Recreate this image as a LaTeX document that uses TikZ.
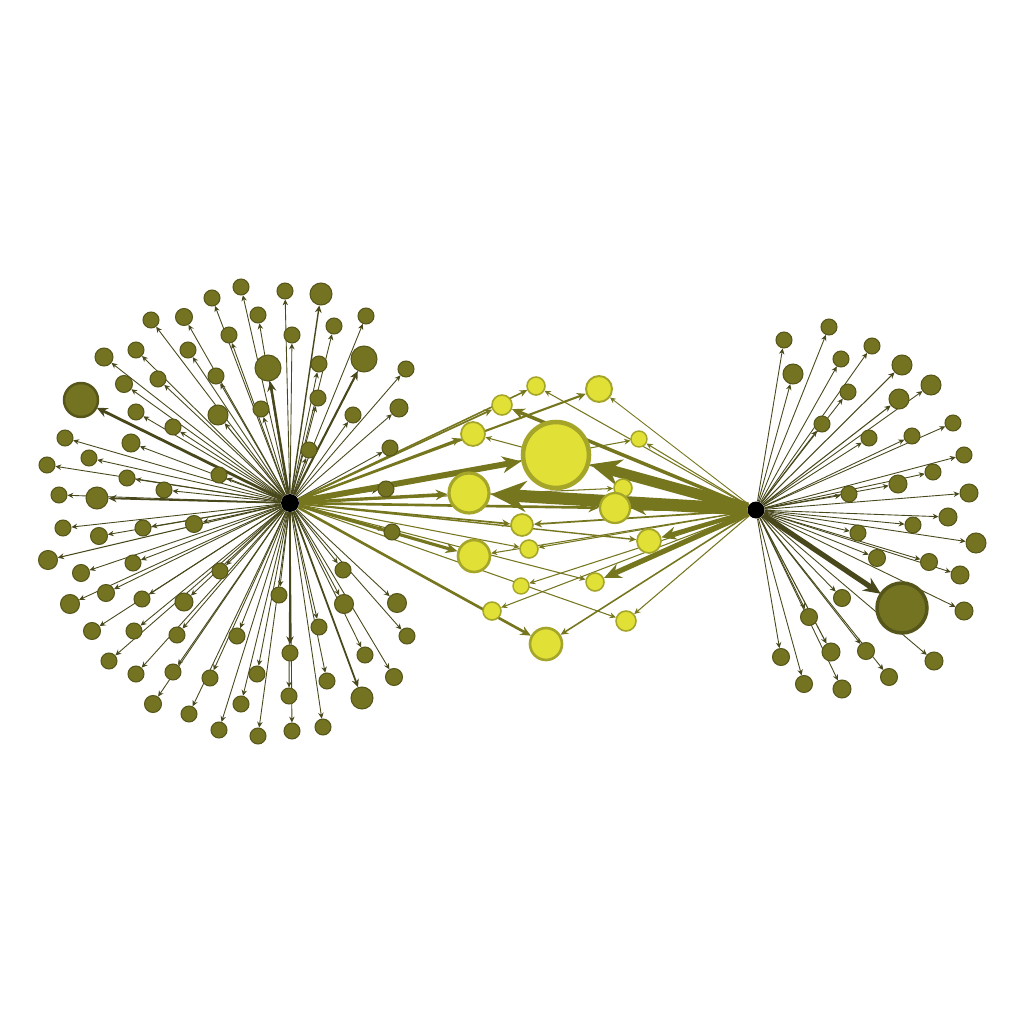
\documentclass[tikz,border=0pt]{standalone}
\usetikzlibrary{arrows.meta,backgrounds}
\definecolor{olive1}{HTML}{737322}
\definecolor{olive2}{HTML}{56561A}
\definecolor{olivedge}{HTML}{48481C}
\definecolor{midedge}{HTML}{76761F}
\definecolor{yel}{HTML}{E0E036}
\definecolor{yelbd}{HTML}{A5A52A}
\tikzset{
  sat/.style={circle, fill=olive1, draw=olive2, line width=0.6pt, inner sep=0pt},
  mid/.style={circle, fill=yel, draw=yelbd, inner sep=0pt},
  hub/.style={circle, fill=black, inner sep=0pt, minimum size=0.36cm},
  tip/.style={-{Stealth[length=2pt 2.6, width=2pt 2.2]}},
}
\begin{document}
\begin{tikzpicture}[x=0.02cm, y=-0.02cm, line join=round]
\begin{scope}[on background layer]
\fill[white] (0,0) rectangle (1024,1024);
\end{scope}
\useasboundingbox (0,0) rectangle (1024,1024);
% hubs
\node[hub] (L) at (290,503) {};
\node[hub, minimum size=0.34cm] (R) at (756,510) {};
% left satellites: x/y/radius/edge width
\foreach \x/\y/\r/\w [count=\i] in {241/287/8/0.5, 212/298/8/0.5, 285/291/8/0.5, 321/294/11/0.8,
  151/320/8/0.5, 184/317/8.5/0.5, 258/315/8/0.5, 366/316/8/0.5, 334/326/8/0.5, 136/350/8/0.5,
  188/350/8/0.5, 229/335/8/0.5, 292/335/8/0.5, 104/357/9/0.5, 268/368/13/1.4, 364/359/13/1.2,
  319/364/8/0.5, 406/369/8/0.5, 124/384/8.5/0.5, 158/379/8/0.5, 216/376/8/0.5, 81/400/17/1.6,
  318/398/8/0.5, 399/408/9/0.5, 136/412/8/0.5, 218/415/10/0.6, 261/409/8/0.5, 353/415/8/0.5,
  173/427/8/0.5, 65/438/8/0.5, 131/443/9/0.5, 89/458/8/0.5, 390/448/8/0.5, 47/465/8/0.5,
  309/450/8/0.5, 219/475/8/0.5, 127/478/8/0.5, 164/490/8/0.5, 386/489/8/0.5, 59/495/8/0.5,
  97/498/11/1.0, 63/528/8/0.5, 143/528/8/0.5, 99/536/8.5/0.5, 194/524/8.5/0.5, 392/532/8/0.5,
  48/560/9.5/0.6, 133/563/8/0.5, 81/573/8.5/0.5, 220/571/8/0.5, 343/570/8/0.5, 106/593/8.5/0.5,
  70/604/9.5/0.5, 142/599/8/0.5, 184/602/9/0.5, 279/595/8/0.5, 344/604/9.5/0.5, 397/603/9.5/0.5,
  92/631/8.5/0.5, 134/631/8/0.5, 177/635/8/0.5, 237/636/8/0.5, 319/627/8/0.5, 407/636/8/0.5,
  109/661/8/0.5, 290/653/8/1.0, 136/674/8/0.5, 173/672/8/0.5, 365/655/8/0.5, 210/678/8/0.5,
  257/674/8/0.5, 327/681/8/0.5, 394/677/8.5/0.5, 153/704/8.5/0.5, 241/704/8/0.5, 289/696/8/0.5,
  362/698/11/1.0, 189/714/8/0.5, 219/730/8/0.5, 258/736/8/0.5, 292/731/8/0.5, 323/727/8/0.5}
{
  \node[sat, minimum size=\r*0.04cm] (a\i) at (\x,\y) {};
  \begin{scope}[on background layer]
    \draw[olivedge, line width=\w pt, tip] (L) -- (a\i);
  \end{scope}
}
% right satellites
\foreach \x/\y/\r/\w [count=\i] in {784/340/8/0.5, 829/327/8/0.5, 872/346/8/0.5, 841/359/8/0.5,
  793/374/10/0.5, 902/365/10/0.6, 931/385/10/0.5, 848/392/8/0.5, 899/399/10/0.6, 953/423/8/0.5,
  822/424/8/0.5, 869/438/8/0.5, 912/436/8/0.5, 964/455/8/0.5, 933/472/8/0.5, 898/484/9/0.5,
  969/493/9/0.5, 849/494/8/0.5, 948/517/9/0.5, 913/525/8/0.5, 858/533/8/0.5, 976/543/10/0.5,
  877/558/8.5/0.5, 929/562/8.5/0.5, 960/575/9/0.5, 842/598/8.5/0.5, 902/608/25/3.0, 964/611/9/0.5,
  809/617/8.5/0.5, 831/652/9/0.6, 866/651/8.5/0.5, 781/657/8.5/0.5, 934/661/9/0.5, 889/677/8.5/0.5,
  804/684/8.5/0.5, 842/689/9/0.5}
{
  \node[sat, minimum size=\r*0.04cm] (b\i) at (\x,\y) {};
  \begin{scope}[on background layer]
    \draw[olivedge, line width=\w pt, tip] (R) -- (b\i);
  \end{scope}
}
\node[sat, minimum size=1.0cm, line width=2pt] at (b27) {};
\node[sat, minimum size=0.68cm, line width=1.4pt] at (a22) {};
% middle nodes: x/y/radius/border
\foreach \x/\y/\r/\b [count=\i] in {536/386/9/0.9, 599/389/13/1.1, 502/405/10/0.9, 473/434/12/1.0,
  556/455/33/2.6, 639/439/8/0.8, 469/493/20/1.8, 623/488/9/0.9, 615/508/15/1.3, 522/525/11/1.0,
  529/549/9/0.9, 649/541/12/1.0, 474/556/16/1.5, 521/586/8/0.8, 595/582/9/0.9, 492/611/9/0.9,
  626/621/10/0.9, 546/644/16/1.5}
  \node[mid, minimum size=\r*0.04cm, line width=\b pt] (m\i) at (\x,\y) {};
% middle edges: from/to/width
\begin{scope}[on background layer]
\foreach \s/\t/\w in {L/5/3.4, R/5/6, L/7/1.8, R/7/7, L/13/1.8, R/13/0.6, L/18/1.5, R/18/0.9,
  L/1/0.9, R/1/0.6, L/2/1.2, R/2/0.5, L/3/1.0, R/3/2.0, L/4/1.2, R/4/0.6, L/6/0.6, R/6/0.6,
  L/8/0.6, L/9/1.5, R/9/2.5, L/10/1.0, R/10/1.0, L/11/0.6, R/11/0.6, L/12/0.8, R/12/2.5,
  L/15/0.6, R/15/3, R/14/0.6, R/16/0.6, L/17/0.6, R/17/0.6}
  \draw[midedge, line width=\w pt, tip] (\s) -- (m\t);
\end{scope}
\end{tikzpicture}
\end{document}
